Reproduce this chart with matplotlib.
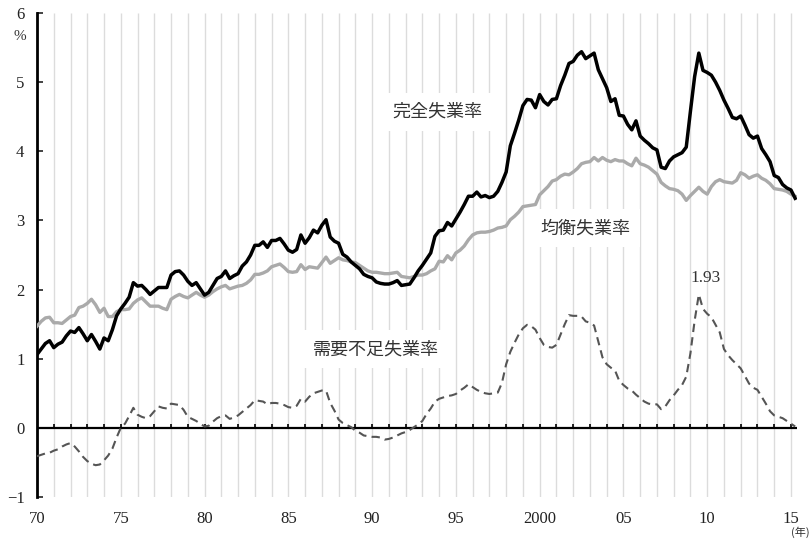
import numpy as np
import matplotlib.pyplot as plt

plt.rcParams['font.family'] = ['Liberation Serif', 'Noto Sans CJK JP']

# quarterly, 1970 Q1 .. 2015 Q2
quarters = 1970 + np.arange(182) * 0.25

# 完全失業率 (%)
actual = [
    1.06, 1.14, 1.22, 1.26,  1.16, 1.21, 1.24, 1.33,  1.40, 1.38, 1.45, 1.36,
    1.26, 1.35, 1.25, 1.14,  1.30, 1.26, 1.42, 1.62,  1.72, 1.80, 1.89, 2.10,
    2.05, 2.06, 2.00, 1.93,  1.98, 2.03, 2.03, 2.03,  2.21, 2.26, 2.27, 2.21,
    2.12, 2.06, 2.10, 2.01,  1.92, 1.96, 2.06, 2.16,  2.19, 2.27, 2.16, 2.20,
    2.23, 2.34, 2.40, 2.50,  2.64, 2.64, 2.69, 2.61,  2.71, 2.71, 2.74, 2.66,
    2.57, 2.54, 2.58, 2.79,  2.67, 2.75, 2.86, 2.82,  2.93, 3.01, 2.76, 2.70,
    2.67, 2.51, 2.47, 2.40,  2.35, 2.30, 2.22, 2.19,  2.17, 2.11, 2.09, 2.08,
    2.08, 2.10, 2.13, 2.06,  2.07, 2.08, 2.17, 2.27,  2.35, 2.44, 2.53, 2.77,
    2.85, 2.86, 2.97, 2.92,  3.02, 3.12, 3.23, 3.35,  3.35, 3.41, 3.34, 3.36,
    3.33, 3.35, 3.42, 3.55,  3.70, 4.08, 4.26, 4.45,  4.66, 4.75, 4.74, 4.63,
    4.82, 4.72, 4.67, 4.75,  4.76, 4.95, 5.10, 5.27,  5.30, 5.39, 5.44, 5.34,
    5.38, 5.42, 5.18, 5.05,  4.92, 4.72, 4.76, 4.52,  4.51, 4.39, 4.31, 4.44,
    4.22, 4.16, 4.11, 4.05,  4.02, 3.77, 3.75, 3.86,  3.92, 3.95, 3.98, 4.06,
    4.58, 5.08, 5.42, 5.17,  5.14, 5.10, 5.00, 4.88,  4.74, 4.62, 4.49, 4.47,
    4.51, 4.38, 4.24, 4.19,  4.22, 4.04, 3.95, 3.85,  3.65, 3.62, 3.52, 3.47,
    3.44, 3.32,
]

# 均衡失業率 (%)
equilibrium = [
    1.47, 1.54, 1.59, 1.60,  1.52, 1.52, 1.51, 1.56,  1.61, 1.63, 1.74, 1.76,
    1.80, 1.86, 1.78, 1.67,  1.73, 1.61, 1.61, 1.68,  1.71, 1.71, 1.72, 1.80,
    1.85, 1.88, 1.82, 1.76,  1.76, 1.76, 1.73, 1.71,  1.86, 1.90, 1.93, 1.90,
    1.88, 1.92, 1.96, 1.92,  1.89, 1.92, 1.97, 2.01,  2.04, 2.06, 2.01, 2.03,
    2.05, 2.06, 2.09, 2.14,  2.22, 2.22, 2.24, 2.27,  2.33, 2.35, 2.37, 2.32,
    2.26, 2.25, 2.26, 2.36,  2.29, 2.33, 2.32, 2.31,  2.39, 2.47, 2.38, 2.42,
    2.46, 2.43, 2.42, 2.40,  2.39, 2.35, 2.31, 2.27,  2.25, 2.25, 2.24, 2.23,
    2.23, 2.24, 2.25, 2.19,  2.18, 2.17, 2.19, 2.21,  2.21, 2.23, 2.27, 2.30,
    2.41, 2.40, 2.49, 2.43,  2.53, 2.57, 2.63, 2.72,  2.79, 2.82, 2.83, 2.83,
    2.84, 2.86, 2.89, 2.90,  2.92, 3.01, 3.06, 3.12,  3.20, 3.21, 3.22, 3.23,
    3.37, 3.43, 3.49, 3.57,  3.59, 3.64, 3.67, 3.66,  3.70, 3.75, 3.82, 3.84,
    3.85, 3.91, 3.86, 3.91,  3.87, 3.85, 3.88, 3.86,  3.86, 3.82, 3.79, 3.90,
    3.82, 3.80, 3.77, 3.72,  3.67, 3.55, 3.50, 3.46,  3.45, 3.43, 3.38, 3.29,
    3.36, 3.42, 3.48, 3.42,  3.38, 3.49, 3.56, 3.59,  3.56, 3.55, 3.54, 3.58,
    3.69, 3.66, 3.61, 3.64,  3.66, 3.61, 3.58, 3.53,  3.46, 3.45, 3.44, 3.42,
    3.38, 3.35,
]

# 需要不足失業率 (%)
demand_gap = [
    -0.41, -0.39, -0.37, -0.36,  -0.33, -0.31, -0.27, -0.24,  -0.22, -0.27, -0.34, -0.42,
    -0.48, -0.52, -0.54, -0.53,  -0.47, -0.40, -0.30, -0.14,   0.00,  0.06,  0.17,  0.29,
     0.19,  0.16,  0.14,  0.17,   0.24,  0.31,  0.29,  0.28,   0.35,  0.34,  0.33,  0.26,
     0.16,  0.13,  0.10,  0.06,   0.02,  0.03,  0.09,  0.14,   0.17,  0.18,  0.13,  0.15,
     0.18,  0.23,  0.28,  0.33,   0.40,  0.39,  0.38,  0.34,   0.36,  0.36,  0.35,  0.33,
     0.30,  0.29,  0.32,  0.42,   0.38,  0.45,  0.50,  0.52,   0.54,  0.54,  0.36,  0.25,
     0.12,  0.07,  0.04,  0.01,  -0.04, -0.07, -0.11, -0.12,  -0.13, -0.13, -0.14, -0.17,
    -0.16, -0.14, -0.11, -0.08,  -0.06, -0.03,  0.01,  0.05,   0.10,  0.20,  0.28,  0.38,
     0.42,  0.44,  0.46,  0.47,   0.49,  0.54,  0.58,  0.63,   0.59,  0.55,  0.52,  0.50,
     0.49,  0.50,  0.51,  0.65,   0.92,  1.10,  1.23,  1.35,   1.44,  1.49,  1.47,  1.42,
     1.30,  1.20,  1.17,  1.16,   1.20,  1.35,  1.50,  1.63,   1.62,  1.62,  1.61,  1.54,
     1.52,  1.48,  1.25,  1.02,   0.92,  0.87,  0.83,  0.68,   0.62,  0.57,  0.54,  0.48,
     0.43,  0.38,  0.35,  0.34,   0.34,  0.27,  0.31,  0.40,   0.47,  0.55,  0.62,  0.74,
     1.08,  1.55,  1.93,  1.72,   1.65,  1.60,  1.49,  1.38,   1.14,  1.05,  0.98,  0.92,
     0.86,  0.75,  0.64,  0.58,   0.55,  0.45,  0.35,  0.24,   0.18,  0.16,  0.14,  0.10,
     0.06,  0.02,
]

year_ticks = [1970, 1975, 1980, 1985, 1990, 1995, 2000, 2005, 2010, 2015]
year_labels = ['70', '75', '80', '85', '90', '95', '2000', '05', '10', '15']
years = np.arange(1971, 2016)

fig = plt.figure(figsize=(8.12, 5.39), dpi=100)
ax = fig.add_axes([37/812, 1 - 497/539, 760/812, 484/539])

# vertical year gridlines
ax.vlines(years, -1, 6, color='#dcdcdc', lw=1.0, zorder=0)

# zero line with small year ticks
ax.axhline(0, color='black', lw=1.6, zorder=2)
ax.vlines(years, 0, 0.06, color='black', lw=1.2, zorder=2)

ax.plot(quarters, equilibrium, color='#aaaaaa', lw=2.4, zorder=3)
ax.plot(quarters, actual, color='black', lw=2.5, zorder=4)
ax.plot(quarters, demand_gap, color='#555555', lw=1.5, ls=(0, (4, 2.5)), zorder=3)

ax.set_xlim(1970, 2015.36)
ax.set_ylim(-1, 6)

for s in ['top', 'right', 'bottom']:
    ax.spines[s].set_visible(False)
ax.spines['left'].set_linewidth(2)

ax.set_yticks(range(-1, 7))
ax.set_yticklabels(['−1', '0', '1', '2', '3', '4', '5', '6'])
ax.tick_params(axis='y', direction='in', length=4, width=1.2, pad=9,
               labelsize=12, colors='#222222')
ax.set_xticks(year_ticks)
ax.set_xticklabels(year_labels)
ax.tick_params(axis='x', length=0, pad=10, labelsize=12, colors='#222222')

box = dict(facecolor='white', edgecolor='none', pad=7)
jp = ['Noto Sans CJK JP']
ax.text(1993.9, 4.57, '完全失業率', family=jp, fontsize=13, color='#333333',
        ha='center', va='center', bbox=box, zorder=1)
ax.text(2002.75, 2.89, '均衡失業率', family=jp, fontsize=13, color='#333333',
        ha='center', va='center', bbox=box, zorder=1)
ax.text(1990.25, 1.14, '需要不足失業率', family=jp, fontsize=13, color='#333333',
        ha='center', va='center', bbox=box, zorder=1)
ax.text(2009.9, 2.17, '1.93', fontsize=12.5, color='#333333',
        ha='center', va='center', zorder=5)

fig.text(20/812, 1 - 37/539, '%', fontsize=11, color='#333333',
         ha='center', va='center')
fig.text(800/812, 1 - 532/539, '(年)', family=jp, fontsize=8, color='#333333',
         ha='center', va='center')

fig.savefig('out.png', dpi=100)
